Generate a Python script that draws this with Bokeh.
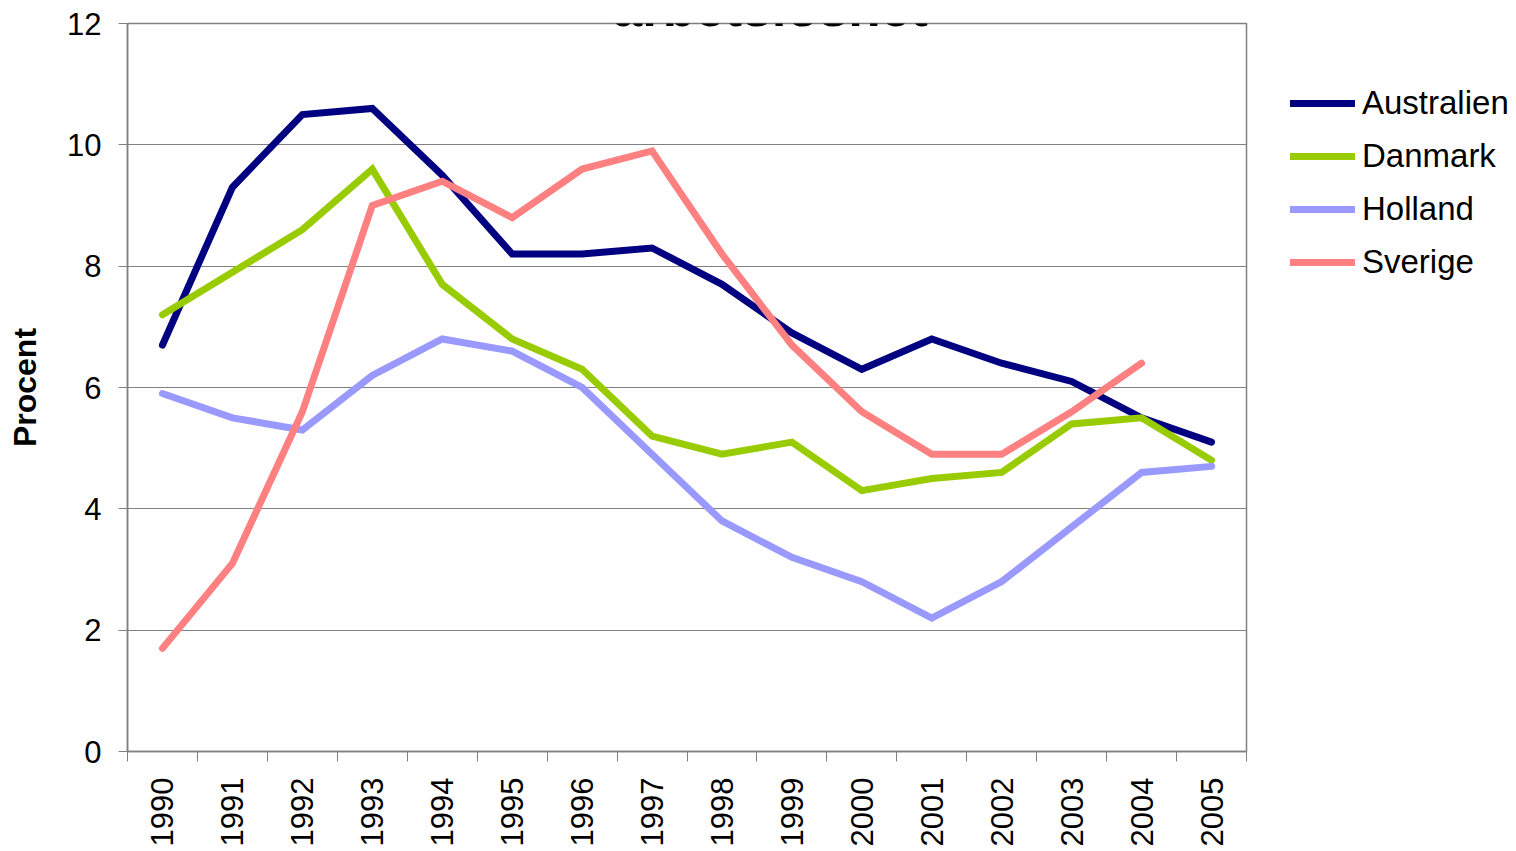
from bokeh.plotting import figure
from bokeh.models import Legend, LegendItem, Label, FixedTicker, ColumnDataSource
from bokeh.embed import file_html
from bokeh.resources import INLINE
import numpy as np
import math

years = [1990, 1991, 1992, 1993, 1994, 1995, 1996, 1997, 1998, 1999, 2000, 2001, 2002, 2003, 2004, 2005]
australien = [6.7, 9.3, 10.5, 10.6, 9.5, 8.2, 8.2, 8.3, 7.7, 6.9, 6.3, 6.8, 6.4, 6.1, 5.5, 5.1]
danmark = [7.2, 7.9, 8.6, 9.6, 7.7, 6.8, 6.3, 5.2, 4.9, 5.1, 4.3, 4.5, 4.6, 5.4, 5.5, 4.8]
holland = [5.9, 5.5, 5.3, 6.2, 6.8, 6.6, 6.0, 4.9, 3.8, 3.2, 2.8, 2.2, 2.8, 3.7, 4.6, 4.7]
sverige = [1.7, 3.1, 5.6, 9.0, 9.4, 8.8, 9.6, 9.9, 8.2, 6.7, 5.6, 4.9, 4.9, 5.6, 6.4, None]

series_names = ["Australien", "Danmark", "Holland", "Sverige"]
series_values = [australien, danmark, holland, sverige]
colors = ["#000080", "#99CC00", "#9999FF", "#FF8080"]
title_text = "arbetslöshet"
y_label = "Procent"
y_ticks = [0, 2, 4, 6, 8, 10, 12]

FONT = "Liberation Sans"

p = figure(width=1516, height=851, output_backend="svg", toolbar_location=None,
           x_range=(years[0] - 0.5, years[-1] + 0.5), y_range=(0, 12),
           min_border_left=127, min_border_right=270, min_border_top=23, min_border_bottom=100)
p.frame_width = 1119
p.frame_height = 728

p.outline_line_color = "#808080"
p.outline_line_width = 1.5
p.background_fill_color = "white"
p.border_fill_color = "white"

# grids
p.xgrid.grid_line_color = None
p.ygrid.grid_line_color = "#808080"
p.ygrid.grid_line_width = 1
p.ygrid.ticker = FixedTicker(ticks=y_ticks)

# y axis
p.yaxis.ticker = FixedTicker(ticks=y_ticks)
p.yaxis.axis_line_color = "#808080"
p.yaxis.axis_line_width = 1.5
p.yaxis.major_tick_line_color = "#808080"
p.yaxis.major_tick_out = 9
p.yaxis.major_tick_in = 0
p.yaxis.minor_tick_line_color = None
p.yaxis.major_label_standoff = 17
p.yaxis.major_label_text_font = FONT
p.yaxis.major_label_text_font_size = "31px"
p.yaxis.major_label_text_color = "black"
p.yaxis.axis_label = y_label
p.yaxis.axis_label_text_font = FONT
p.yaxis.axis_label_text_font_size = "32px"
p.yaxis.axis_label_text_font_style = "bold"
p.yaxis.axis_label_text_color = "black"
p.yaxis.axis_label_standoff = 21

# x axis: labels at year centers, ticks at boundaries
bounds = [y - 0.5 for y in years] + [years[-1] + 0.5]
p.xaxis.ticker = FixedTicker(ticks=years, minor_ticks=bounds)
p.xaxis.axis_line_color = "#808080"
p.xaxis.axis_line_width = 1.5
p.xaxis.major_tick_line_color = None
p.xaxis.major_tick_out = 0
p.xaxis.major_tick_in = 0
p.xaxis.minor_tick_line_color = "#808080"
p.xaxis.minor_tick_out = 10
p.xaxis.minor_tick_in = 0
p.xaxis.major_label_orientation = math.pi / 2
p.xaxis.major_label_standoff = 16
p.xaxis.major_label_text_font = FONT
p.xaxis.major_label_text_font_size = "31px"
p.xaxis.major_label_text_color = "black"

items = []
for name, vals, col in zip(series_names, series_values, colors):
    yv = [np.nan if v is None else v for v in vals]
    src = ColumnDataSource(dict(x=years, y=yv))
    r = p.line("x", "y", source=src, line_color=col, line_width=7,
               line_join="miter", line_cap="round")
    items.append(LegendItem(label=name, renderers=[r]))

legend = Legend(items=items, location=(44, 470), orientation="vertical",
                glyph_width=65, glyph_height=30, label_height=30, spacing=15,
                label_standoff=7, padding=0, margin=0,
                border_line_color=None, background_fill_alpha=0,
                label_text_font=FONT, label_text_font_size="33px",
                label_text_color="black")
p.add_layout(legend, "right")

title = Label(x=years[0] - 0.5 + 9.19, y=12, y_offset=16,
              text=title_text, text_font=FONT, text_font_size="53px",
              text_font_style="bold", text_align="center",
              text_baseline="alphabetic", text_color="black")
p.add_layout(title)

open("out.html", "w").write(file_html(p, INLINE))
